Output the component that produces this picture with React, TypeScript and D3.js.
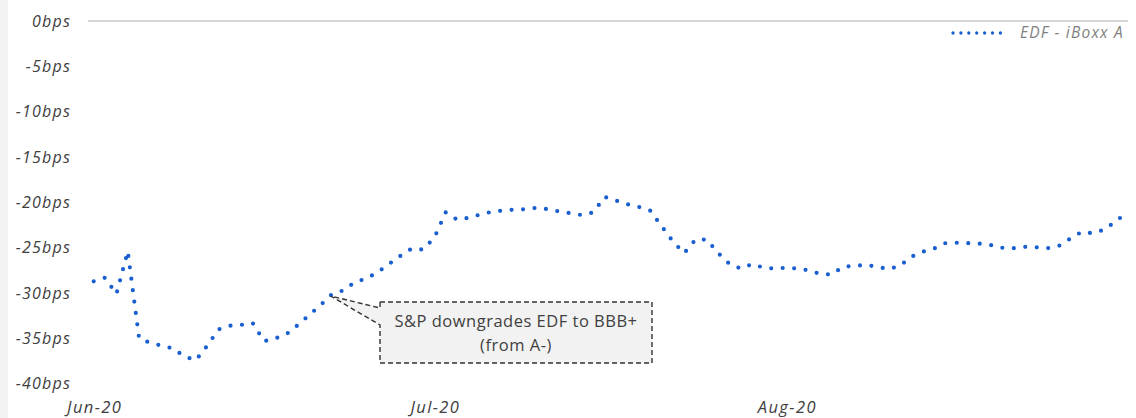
import React from "react";
import * as d3 from "d3";

const START_DATE = new Date(2020, 5, 1);
const spreadBps = [
  -28.7, -28.3, -30.1, -25.4, -35.0, -35.5, -35.8, -36.1, -37.0, -37.4,
  -35.8, -34.0, -33.6, -33.5, -33.3, -35.3, -35.0, -34.5, -33.5, -32.4,
  -31.3, -30.1, -29.7, -28.8, -28.4, -27.7, -26.8, -25.9, -25.1, -25.2,
  -23.9, -21.1, -21.9, -21.7, -21.35, -21.05, -20.9, -20.8, -20.75, -20.6,
  -20.75, -21.0, -21.2, -21.4, -21.1, -19.4, -19.8, -20.2, -20.5, -20.9,
  -22.6, -24.3, -25.6, -24.1, -24.1, -25.6, -26.8, -27.3, -26.8, -27.2,
  -27.3, -27.2, -27.3, -27.5, -27.9, -27.95, -27.1, -27.0, -26.9, -27.1,
  -27.35, -27.0, -26.0, -25.45, -25.1, -24.5, -24.45, -24.5, -24.55, -24.7,
  -25.0, -25.05, -24.9, -24.95, -25.05, -24.8, -24.0, -23.25, -23.4, -23.0,
  -22.1, -21.1,
];
const dates = spreadBps.map((_, i) => d3.timeDay.offset(START_DATE, i));
const yTicks = [0, -5, -10, -15, -20, -25, -30, -35, -40];
const xTickDates = [new Date(2020, 5, 1), new Date(2020, 6, 1), new Date(2020, 7, 1)];
const seriesName = "EDF - iBoxx A";
const annotationLines = ["S&P downgrades EDF to BBB+", "(from A-)"];
const annotationDate = new Date(2020, 5, 22);

const W = 1136;
const H = 418;

export default function App() {
  const x = d3
    .scaleTime()
    .domain([dates[0], dates[dates.length - 1]])
    .range([93.7, 1127]);
  const y = d3.scaleLinear().domain([-40, 0]).range([383.8, 21]);
  const data = dates.map((d, i) => ({ d, v: spreadBps[i] }));
  const line = d3
    .line<{ d: Date; v: number }>()
    .x((p) => x(p.d))
    .y((p) => y(p.v));
  const fmt = d3.timeFormat("%b-%y");

  const annIdx = dates.findIndex((d) => +d === +annotationDate);
  const tipX = x(annotationDate) - 1.5;
  const tipY = y(spreadBps[annIdx]) + 2;
  const bx0 = 380, bx1 = 652, by0 = 302, by1 = 363;
  const callout = `M${bx0},${by0} L${bx1},${by0} L${bx1},${by1} L${bx0},${by1} L${bx0},325 L${tipX},${tipY} L${bx0},308 Z`;

  return (
    <svg
      width={W}
      height={H}
      style={{ position: "absolute", left: 0, top: 0, background: "#fff" }}
      fontFamily="'Open Sans', sans-serif"
    >
      <rect x={0} y={0} width={8} height={H} fill="#f3f3f3" />
      <line x1={88} x2={1128} y1={y(0)} y2={y(0)} stroke="#c8c8c8" strokeWidth={1.5} />
      {yTicks.map((t) => (
        <text
          key={t}
          x={71}
          y={y(t) + 5.5}
          textAnchor="end"
          fontSize={16}
          letterSpacing={1.2}
          fontStyle="italic"
          fill="#404040"
        >
          {`${t}bps`}
        </text>
      ))}
      {xTickDates.map((d) => (
        <text
          key={+d}
          x={x(d) + 1}
          y={413}
          textAnchor="middle"
          fontSize={16.5}
          letterSpacing={1.4}
          fontStyle="italic"
          fill="#404040"
        >
          {fmt(d)}
        </text>
      ))}
      <path
        d={line(data) || ""}
        fill="none"
        stroke="#1a5fd0"
        strokeWidth={4.2}
        strokeLinecap="round"
        strokeDasharray="0 11.5"
      />
      <path d={callout} fill="#f2f2f2" stroke="#333" strokeWidth={1.4} strokeDasharray="5 3" />
      {annotationLines.map((t, i) => (
        <text
          key={t}
          x={(bx0 + bx1) / 2}
          y={327 + i * 24}
          textAnchor="middle"
          fontSize={16.5}
          letterSpacing={0.5}
          fill="#404040"
        >
          {t}
        </text>
      ))}
      <line
        x1={953}
        x2={1008}
        y1={33}
        y2={33}
        stroke="#1a5fd0"
        strokeWidth={3.3}
        strokeLinecap="round"
        strokeDasharray="0 7.9"
      />
      <text x={1020} y={38} fontSize={15.5} letterSpacing={1.2} fontStyle="italic" fill="#7f7f7f">
        {seriesName}
      </text>
    </svg>
  );
}
